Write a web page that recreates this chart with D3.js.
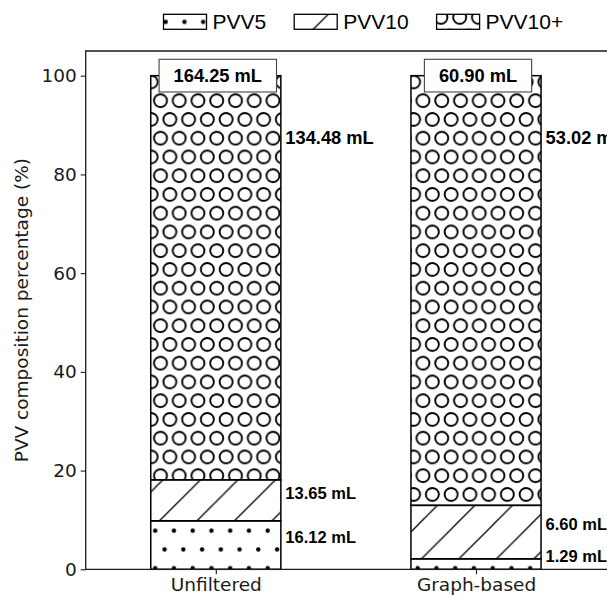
<!DOCTYPE html>
<html>
<head>
<meta charset="utf-8">
<script src="https://cdn.jsdelivr.net/npm/d3@7"></script>
<style>
	body { margin: 0; background: #fff; }
	svg { display: block; }
	.tick-label { font-family: "DejaVu Sans", sans-serif; font-size: 18.5px; fill: #1a1a1a; }
	.bar-label { font-family: "Liberation Sans", Arial, sans-serif; font-size: 18.3px; font-weight: bold; fill: #000; }
	.seg-label { font-family: "Liberation Sans", Arial, sans-serif; font-size: 16.5px; font-weight: bold; fill: #000; }
	.legend-label { font-family: "Liberation Sans", Arial, sans-serif; font-size: 21px; fill: #000; }
</style>
</head>
<body>
<svg id="chart" width="607" height="601"></svg>
<script>
// data (mL)
const categories = ["Unfiltered", "Graph-based"];
const seriesNames = ["PVV5", "PVV10", "PVV10+"];
const pvv5 = [16.12, 1.29];
const pvv10 = [13.65, 6.60];
const pvv10plus = [134.48, 53.02];
const totals = ["164.25 mL", "60.90 mL"];
const yTicks = [0, 20, 40, 60, 80, 100];

const svg = d3.select("#chart");
const plotLeft = 85.7, plotRight = 606.1, plotTop = 51, plotBottom = 569.3;

var x = d3.scaleLinear().domain([-0.5, 1.5]).range([plotLeft, plotRight]);
var y = d3.scaleLinear().domain([0, 105]).range([plotBottom, plotTop]);
const barW = x(0.5) - x(0);

// hatch patterns, anchored to the page like matplotlib hatches
const defs = svg.append("defs");
const cell = 18.75, period = 37.5;

function dotPattern(id, ox, oy) {
	let p = defs.append("pattern").attr("id", id).attr("patternUnits", "userSpaceOnUse")
		.attr("x", ox).attr("y", oy).attr("width", cell).attr("height", period);
	[[cell / 4, period / 4], [3 * cell / 4, 3 * period / 4]].forEach(c => {
		p.append("circle").attr("cx", c[0]).attr("cy", c[1]).attr("r", 2.2).attr("fill", "#000");
	});
}

function circlePattern(id, ox, oy) {
	let p = defs.append("pattern").attr("id", id).attr("patternUnits", "userSpaceOnUse")
		.attr("x", ox).attr("y", oy).attr("width", cell).attr("height", period);
	[[cell / 4, period / 4], [3 * cell / 4, 3 * period / 4]].forEach(c => {
		for (let i = -1; i <= 1; i++) {
			for (let j = -1; j <= 1; j++) {
				p.append("circle").attr("cx", c[0] + i * cell).attr("cy", c[1] + j * period)
					.attr("r", 6.5).attr("fill", "none").attr("stroke", "#000").attr("stroke-width", 1.9);
			}
		}
	});
}

function slashPattern(id, ox, oy) {
	let p = defs.append("pattern").attr("id", id).attr("patternUnits", "userSpaceOnUse")
		.attr("x", ox).attr("y", oy).attr("width", period).attr("height", period);
	p.append("path")
		.attr("d", `M0,${period}L${period},0 M-5,5L5,-5 M${period - 5},${period + 5}L${period + 5},${period - 5}`)
		.attr("stroke", "#000").attr("stroke-width", 1.3).attr("fill", "none");
}

dotPattern("h-pvv5", 0.5, -3.7);
slashPattern("h-pvv10", 5.3, 0);
circlePattern("h-pvv10plus", 5.8, 16.3);
dotPattern("l-pvv5", 11, 12.5);
slashPattern("l-pvv10", 5, 0);
circlePattern("l-pvv10plus", 5, 8);

const fills = ["h-pvv5", "h-pvv10", "h-pvv10plus"];
const legendFills = ["l-pvv5", "l-pvv10", "l-pvv10plus"];

// percentage table
var table = categories.map((c, i) => {
	let sum = pvv5[i] + pvv10[i] + pvv10plus[i];
	return {
		cat: i,
		PVV5: pvv5[i] / sum * 100,
		PVV10: pvv10[i] / sum * 100,
		"PVV10+": pvv10plus[i] / sum * 100,
		vol: { PVV5: pvv5[i], PVV10: pvv10[i], "PVV10+": pvv10plus[i] }
	};
});
var stacked = d3.stack().keys(seriesNames)(table);

var layers = svg.append("g").selectAll("g").data(stacked).enter().append("g");

layers.selectAll("rect")
	.data(d => d.map(s => ({ s: s, key: d.key, idx: d.index })))
	.enter().append("rect")
	.attr("x", d => x(d.s.data.cat) - barW / 2)
	.attr("width", barW)
	.attr("y", d => y(d.s[1]))
	.attr("height", d => y(d.s[0]) - y(d.s[1]))
	.attr("fill", d => "url(#" + fills[d.idx] + ")")
	.attr("stroke", "#000")
	.attr("stroke-width", 1.5);

// volume labels to the right of each segment (top one is larger, near the top)
const topLabelValue = 87.5;
layers.selectAll("text")
	.data(d => d.map(s => ({ s: s, key: d.key, idx: d.index })))
	.enter().append("text")
	.attr("class", d => d.idx === 2 ? "bar-label" : "seg-label")
	.attr("x", d => x(d.s.data.cat) + barW / 2 + 4.5)
	.attr("y", d => d.idx === 2 ? y(topLabelValue) : y((d.s[0] + d.s[1]) / 2 + 1.5))
	.attr("dy", "0.35em")
	.text(d => d.s.data.vol[d.key].toFixed(2) + " mL");

// total volume boxes
var totalG = svg.append("g").selectAll("g").data(totals).enter().append("g");
totalG.each(function(t, i) {
	let g = d3.select(this);
	let cx = x(i) + 2, cy = y(100);
	let txt = g.append("text").attr("class", "bar-label")
		.attr("x", cx).attr("y", cy).attr("dy", "0.35em")
		.attr("text-anchor", "middle").text(t);
	let w = txt.node().getComputedTextLength() + 29;
	g.insert("rect", "text")
		.attr("x", cx - w / 2).attr("y", cy - 16.4)
		.attr("width", w).attr("height", 32.7)
		.attr("fill", "#fff").attr("stroke", "#444").attr("stroke-width", 1.1);
});

// axes
var yAxis = d3.axisLeft(y).tickValues(yTicks).tickSize(5).tickPadding(4);
var yg = svg.append("g").attr("transform", `translate(${plotLeft},0)`).call(yAxis);
var xAxis = d3.axisBottom(x).tickValues([0, 1]).tickFormat(i => categories[i]).tickSize(5).tickPadding(4);
var xg = svg.append("g").attr("transform", `translate(0,${plotBottom})`).call(xAxis);
[yg, xg].forEach(g => {
	g.select(".domain").remove();
	g.selectAll(".tick line").attr("stroke", "#1a1a1a").attr("stroke-width", 1.1);
	g.selectAll(".tick text").attr("class", "tick-label").attr("fill", null);
});

// frame: left, top, bottom spines (right spine falls off the page)
svg.append("path")
	.attr("d", `M${plotRight + 10},${plotTop}H${plotLeft}V${plotBottom}H${plotRight + 10}`)
	.attr("fill", "none").attr("stroke", "#1a1a1a").attr("stroke-width", 1.3);

svg.append("text")
	.attr("class", "tick-label")
	.attr("transform", `translate(22,${(plotTop + plotBottom) / 2}) rotate(-90)`)
	.attr("text-anchor", "middle")
	.attr("dy", "0.35em")
	.text("PVV composition percentage (%)");

// legend
var legend = svg.append("g");
var lx = 163.5;
seriesNames.forEach((name, i) => {
	let item = legend.append("g");
	item.append("rect")
		.attr("x", lx).attr("y", 14.3).attr("width", 43).attr("height", 15)
		.attr("fill", "url(#" + legendFills[i] + ")")
		.attr("stroke", "#000").attr("stroke-width", 1.3);
	let t = item.append("text").attr("class", "legend-label")
		.attr("x", lx + 43 + 6).attr("y", 21.8).attr("dy", "0.35em").text(name);
	lx += 43 + 6 + t.node().getComputedTextLength() + 28;
});
</script>
</body>
</html>
